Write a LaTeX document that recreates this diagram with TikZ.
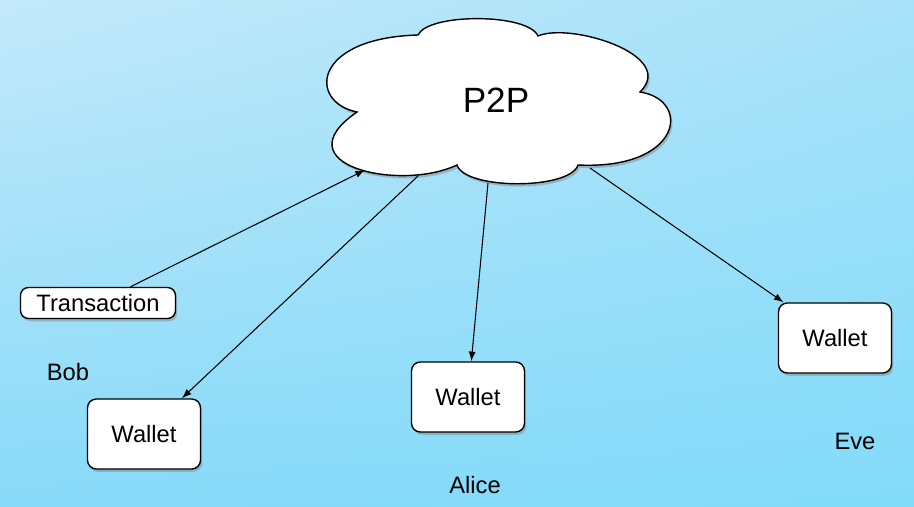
\documentclass[tikz,border=0pt]{standalone}
\usepackage{fontspec}
\setmainfont{Liberation Sans}
\usetikzlibrary{shadows,shadings,arrows.meta}
\definecolor{skyA}{HTML}{C3E9FA}
\definecolor{skyB}{HTML}{A8E2F8}
\definecolor{skyC}{HTML}{88DAF9}
\definecolor{skyD}{HTML}{82DBFA}
\begin{document}
\begin{tikzpicture}[x=0.02cm,y=-0.02cm,>={Latex[length=5.5pt,width=4pt]},
    shadowed/.style={drop shadow={shadow xshift=1pt,shadow yshift=-1.6pt,opacity=.45}},
    wallet/.style={draw,fill=white,line width=.8pt,rounded corners=5pt,shadowed,
                   minimum width=2.26cm,minimum height=1.4cm,font=\fontsize{13.5}{15}\selectfont},
    txbox/.style={draw,fill=white,line width=.8pt,rounded corners=4.5pt,shadowed,
                  minimum width=3.1cm,minimum height=0.62cm,inner sep=0pt,font=\fontsize{13.5}{15}\selectfont},
    person/.style={font=\fontsize{13.5}{15}\selectfont}]
    % Background
    \shade[upper left=skyA,upper right=skyB,lower left=skyC,lower right=skyD]
        (0,0) rectangle (914,507);
    \useasboundingbox (0,0) rectangle (914,507);

    % Cloud
    \draw[fill=white,line width=.8pt,shadowed]
        (357,112) .. controls (308,102) and (312,38) .. (418,35)
                  .. controls (428,13) and (528,13) .. (538,36)
                  .. controls (570,22) and (678,55) .. (640,92)
                  .. controls (692,100) and (682,170) .. (578,165)
                  .. controls (570,190) and (465,190) .. (457,165)
                  .. controls (400,192) and (280,165) .. (357,112) -- cycle;
    \node[font=\fontsize{20}{24}\selectfont] (p2p) at (496,100) {P2P};
    % Cloud ports
    \coordinate (inTx)   at (365,170);
    \coordinate (outBob) at (418,176);
    \coordinate (outAli) at (488,183);
    \coordinate (outEve) at (590,168);

    % Bob
    \node[txbox]  (tx)     at (98,303)  {Transaction};
    \node[person] (bob)    at (68,372)  {Bob};
    \node[wallet] (bobW)   at (144,434) {Wallet};
    % Alice
    \node[wallet] (aliceW) at (468,397) {Wallet};
    \node[person] (alice)  at (475,485) {Alice};
    % Eve
    \node[wallet] (eveW)   at (835,338) {Wallet};
    \node[person] (eve)    at (855,441) {Eve};

    % Links
    \draw[->,line width=.6pt] (tx)--(inTx);
    \draw[->,line width=.6pt] (outBob)--(bobW);
    \draw[->,line width=.6pt] (outAli)--(aliceW);
    \draw[->,line width=.6pt] (outEve)--(eveW);
\end{tikzpicture}
\end{document}
